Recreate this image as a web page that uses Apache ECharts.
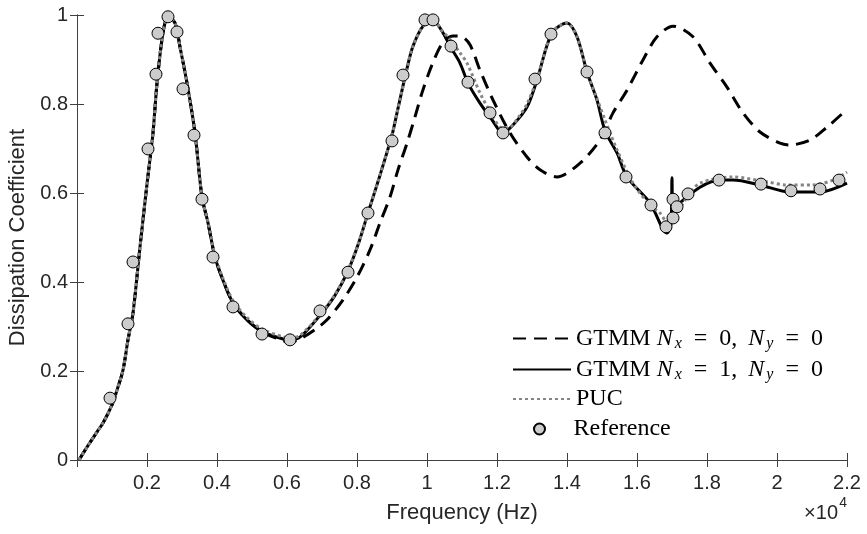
<!DOCTYPE html>
<html>
<head>
<meta charset="utf-8">
<script src="https://cdn.jsdelivr.net/npm/echarts@6/dist/echarts.min.js"></script>
<style>
  html, body { margin: 0; padding: 0; background: #fff; }
  #chart { width: 867px; height: 534px; }
</style>
</head>
<body>
<div id="chart"></div>
<script>
// GTMM Nx=0, Ny=0 (dashed)
const gtmm0Freq = [57, 286, 571, 743, 1000, 1143, 1314, 1457, 1600, 1800, 2000, 2171, 2286, 2457, 2600,
  2800, 2943, 3143, 3371, 3571, 3743, 3943, 4171, 4457, 4857, 5314, 5886, 6086, 6371, 6800,
  7143, 7600, 8000, 8371, 8657, 8943, 9171, 9429, 9657, 9857, 10143, 10457, 10743, 11000, 11229,
  11514, 11886, 12371, 12857, 13229, 13714, 14371, 14943, 15314, 15714, 16171, 16571, 17029, 17600, 18086,
  18571, 19029, 19514, 20086, 20371, 20943, 21429, 22000];
const gtmm0Val = [0.000, 0.029, 0.063, 0.083, 0.124, 0.157, 0.202, 0.270, 0.330, 0.479, 0.620, 0.735, 0.847, 0.960, 0.996,
  0.982, 0.928, 0.847, 0.735, 0.591, 0.533, 0.456, 0.404, 0.353, 0.315, 0.287, 0.268, 0.265, 0.272, 0.293,
  0.315, 0.360, 0.411, 0.472, 0.533, 0.591, 0.652, 0.712, 0.771, 0.825, 0.888, 0.939, 0.953, 0.951, 0.933,
  0.876, 0.809, 0.735, 0.681, 0.652, 0.636, 0.667, 0.719, 0.780, 0.831, 0.899, 0.951, 0.975, 0.951, 0.892,
  0.838, 0.780, 0.737, 0.712, 0.708, 0.719, 0.748, 0.788];

// GTMM Nx=1, Ny=0 (solid)
const gtmm1Freq = [57, 286, 571, 743, 1000, 1143, 1314, 1457, 1600, 1800, 2000, 2171, 2286, 2457, 2600,
  2800, 2943, 3143, 3371, 3571, 3743, 3943, 4171, 4457, 4857, 5314, 5886, 6086, 6371, 6943,
  7371, 7743, 8057, 8314, 8657, 9000, 9143, 9429, 9600, 9886, 10171, 10457, 10657, 10943, 11171,
  11514, 11829, 12171, 12457, 12857, 13143, 13571, 14000, 14286, 14571, 14857, 15086, 15429, 15714, 16371,
  16857, 16971, 17000, 17029, 17229, 17800, 18371, 18743, 19514, 20371, 21229, 22000];
const gtmm1Val = [0.000, 0.029, 0.063, 0.083, 0.124, 0.157, 0.202, 0.270, 0.330, 0.479, 0.620, 0.735, 0.847, 0.960, 0.996,
  0.982, 0.928, 0.847, 0.735, 0.591, 0.533, 0.456, 0.404, 0.353, 0.315, 0.288, 0.272, 0.270, 0.276, 0.325,
  0.370, 0.425, 0.490, 0.555, 0.640, 0.730, 0.780, 0.880, 0.930, 0.975, 0.987, 0.960, 0.930, 0.892, 0.847,
  0.802, 0.768, 0.735, 0.753, 0.793, 0.854, 0.960, 0.982, 0.951, 0.872, 0.809, 0.740, 0.690, 0.636, 0.578,
  0.510, 0.530, 0.634, 0.562, 0.578, 0.613, 0.629, 0.629, 0.618, 0.602, 0.602, 0.622];

// PUC (dotted)
const pucFreq = [57, 286, 571, 743, 1000, 1143, 1314, 1457, 1600, 1800, 2000, 2171, 2286, 2457, 2600,
  2800, 2943, 3143, 3371, 3571, 3743, 3943, 4171, 4457, 4857, 5314, 5886, 6086, 6371, 6943,
  7371, 7743, 8057, 8314, 8657, 9000, 9143, 9429, 9600, 9886, 10171, 10457, 10657, 10943, 11143,
  11514, 11886, 12143, 12371, 12657, 12857, 13143, 13571, 14000, 14286, 14571, 14857, 15086, 15429, 15886,
  16371, 16657, 16886, 17029, 17429, 17800, 18743, 19714, 20286, 21029, 21600, 22000];
const pucVal = [0.000, 0.029, 0.063, 0.083, 0.124, 0.157, 0.202, 0.270, 0.330, 0.479, 0.620, 0.735, 0.847, 0.960, 0.996,
  0.982, 0.928, 0.847, 0.735, 0.591, 0.535, 0.460, 0.408, 0.358, 0.320, 0.293, 0.277, 0.275, 0.280, 0.327,
  0.372, 0.427, 0.490, 0.555, 0.640, 0.730, 0.780, 0.880, 0.930, 0.975, 0.987, 0.962, 0.945, 0.915, 0.892,
  0.825, 0.771, 0.746, 0.748, 0.775, 0.800, 0.856, 0.960, 0.982, 0.951, 0.872, 0.812, 0.764, 0.697, 0.622,
  0.573, 0.555, 0.533, 0.539, 0.591, 0.622, 0.636, 0.625, 0.618, 0.618, 0.629, 0.647];

// Reference (circles)
const refFreq = [943, 1457, 1600, 2029, 2257, 2314, 2600, 2857, 3029, 3343, 3571, 3886, 4457, 5286, 6086,
  6943, 7743, 8314, 9000, 9314, 9943, 10171, 10686, 11171, 11800, 12171, 13086, 13543, 14571, 15086,
  15686, 16400, 16829, 17029, 17029, 17143, 17457, 18343, 19543, 20400, 21229, 21771];
const refVal = [0.139, 0.306, 0.445, 0.699, 0.867, 0.959, 0.996, 0.962, 0.834, 0.730, 0.586, 0.456, 0.344, 0.283, 0.270,
  0.335, 0.422, 0.555, 0.717, 0.865, 0.989, 0.989, 0.930, 0.849, 0.780, 0.735, 0.856, 0.957, 0.872, 0.735,
  0.636, 0.573, 0.524, 0.586, 0.544, 0.569, 0.598, 0.629, 0.620, 0.605, 0.609, 0.629];

const seriesNames = ['GTMM Nx=0, Ny=0', 'GTMM Nx=1, Ny=0', 'PUC', 'Reference'];
const legendLabels = {
  'GTMM Nx=0, Ny=0': '{t|GTMM }{i|N}{s|x}{e|=}{t|0,}{c| }{i|N}{s|y}{e|=}{t|0}',
  'GTMM Nx=1, Ny=0': '{t|GTMM }{i|N}{s|x}{e|=}{t|1,}{c| }{i|N}{s|y}{e|=}{t|0}',
  'PUC': '{t|PUC}',
  'Reference': '{t|Reference}'
};
const legendRows = [334, 365, 396, 426];

const zip = (xs, ys) => xs.map((x, i) => [x, ys[i]]);

const axisColor = '#404040';
const labelColor = '#262626';
const sansFont = 'Liberation Sans, Arial, sans-serif';
const serifFont = 'Liberation Serif, Times New Roman, serif';

const chart = echarts.init(document.getElementById('chart'), null, { renderer: 'canvas' });

const legendRich = {
  t: { fontFamily: serifFont, fontSize: 24, color: '#000', lineHeight: 24 },
  e: { fontFamily: serifFont, fontSize: 24, color: '#000', lineHeight: 24, padding: [0, 12, 0, 12] },
  c: { fontFamily: serifFont, fontSize: 24, color: '#000', lineHeight: 24, padding: [0, 5, 0, 0] },
  i: { fontFamily: serifFont, fontSize: 24, fontStyle: 'italic', color: '#000', lineHeight: 24 },
  s: { fontFamily: serifFont, fontSize: 16, fontStyle: 'italic', color: '#000', lineHeight: 24, padding: [11, 0, 0, 2] }
};

const legends = seriesNames.map((name, i) => {
  const isRef = name === 'Reference';
  return {
    data: [name],
    left: isRef ? 528 : 507,
    top: legendRows[i] - 14,
    itemWidth: 58,
    itemHeight: isRef ? 11 : 12,
    selectedMode: false,
    formatter: (n) => legendLabels[n],
    itemStyle: isRef ? {} : { color: 'rgba(0,0,0,0)', borderWidth: 0, borderColor: 'rgba(0,0,0,0)' },
    textStyle: { rich: legendRich, lineHeight: 24 }
  };
});

const option = {
  animation: false,
  backgroundColor: '#fff',
  grid: { left: 77, right: 20, top: 15, bottom: 74, outerBoundsMode: 'none' },
  legend: legends,
  xAxis: [
    {
      type: 'value', min: 0, max: 22000, interval: 2000, position: 'bottom',
      name: 'Frequency (Hz)', nameLocation: 'middle', nameGap: 42,
      nameTextStyle: { fontFamily: sansFont, fontSize: 22, color: labelColor },
      axisLine: { show: true, lineStyle: { color: axisColor, width: 1 } },
      axisTick: { show: true, inside: true, length: 7, lineStyle: { color: axisColor } },
      axisLabel: {
        margin: 13, fontFamily: sansFont, fontSize: 20, color: labelColor,
        formatter: (v) => v === 0 ? '' : String(+(v / 10000).toFixed(1))
      },
      splitLine: { show: false }
    },
    {
      type: 'value', min: 0, max: 22000, interval: 2000, position: 'top',
      axisLine: { show: true, lineStyle: { color: axisColor, width: 1 } },
      axisTick: { show: true, inside: true, length: 7, lineStyle: { color: axisColor } },
      axisLabel: { show: false },
      splitLine: { show: false }
    }
  ],
  yAxis: [
    {
      type: 'value', min: 0, max: 1, interval: 0.2, position: 'left',
      name: 'Dissipation Coefficient', nameLocation: 'middle', nameGap: 39,
      nameTextStyle: { fontFamily: sansFont, fontSize: 22, color: labelColor },
      axisLine: { show: true, lineStyle: { color: axisColor, width: 1 } },
      axisTick: { show: true, inside: true, length: 7, lineStyle: { color: axisColor } },
      axisLabel: {
        margin: 9, fontFamily: sansFont, fontSize: 20, color: labelColor,
        formatter: (v) => String(+v.toFixed(1))
      },
      splitLine: { show: false }
    },
    {
      type: 'value', min: 0, max: 1, interval: 0.2, position: 'right',
      axisLine: { show: true, lineStyle: { color: axisColor, width: 1 } },
      axisTick: { show: true, inside: true, length: 7, lineStyle: { color: axisColor } },
      axisLabel: { show: false },
      splitLine: { show: false }
    }
  ],
  series: [
    {
      name: seriesNames[0], type: 'line', xAxisIndex: 0, yAxisIndex: 0,
      data: zip(gtmm0Freq, gtmm0Val), symbol: 'none', smooth: 0.3,
      itemStyle: { color: '#000' },
      lineStyle: { color: '#000', width: 3, type: [13, 8] }, z: 2
    },
    {
      name: seriesNames[1], type: 'line', xAxisIndex: 0, yAxisIndex: 0,
      data: zip(gtmm1Freq, gtmm1Val), symbol: 'none', smooth: 0.3,
      itemStyle: { color: '#000' },
      lineStyle: { color: '#000', width: 3, type: 'solid' }, z: 3
    },
    {
      name: seriesNames[2], type: 'line', xAxisIndex: 0, yAxisIndex: 0,
      data: zip(pucFreq, pucVal), symbol: 'none', smooth: 0.3,
      itemStyle: { color: '#858585' },
      lineStyle: { color: '#858585', width: 3, type: [3, 3] }, z: 4
    },
    {
      name: seriesNames[3], type: 'scatter', xAxisIndex: 0, yAxisIndex: 0,
      data: zip(refFreq, refVal), symbol: 'circle', symbolSize: 12,
      itemStyle: { color: '#cccccc', borderColor: '#000', borderWidth: 1, opacity: 1 }, z: 5
    }
  ],
  graphic: [
    {
      type: 'text', right: 29, top: 503,
      style: { text: '×10', fontFamily: sansFont, fontSize: 20, fill: labelColor }
    },
    {
      type: 'text', right: 20, top: 496,
      style: { text: '4', fontFamily: sansFont, fontSize: 14, fill: labelColor }
    }
  ]
};

chart.setOption(option);
</script>
</body>
</html>
